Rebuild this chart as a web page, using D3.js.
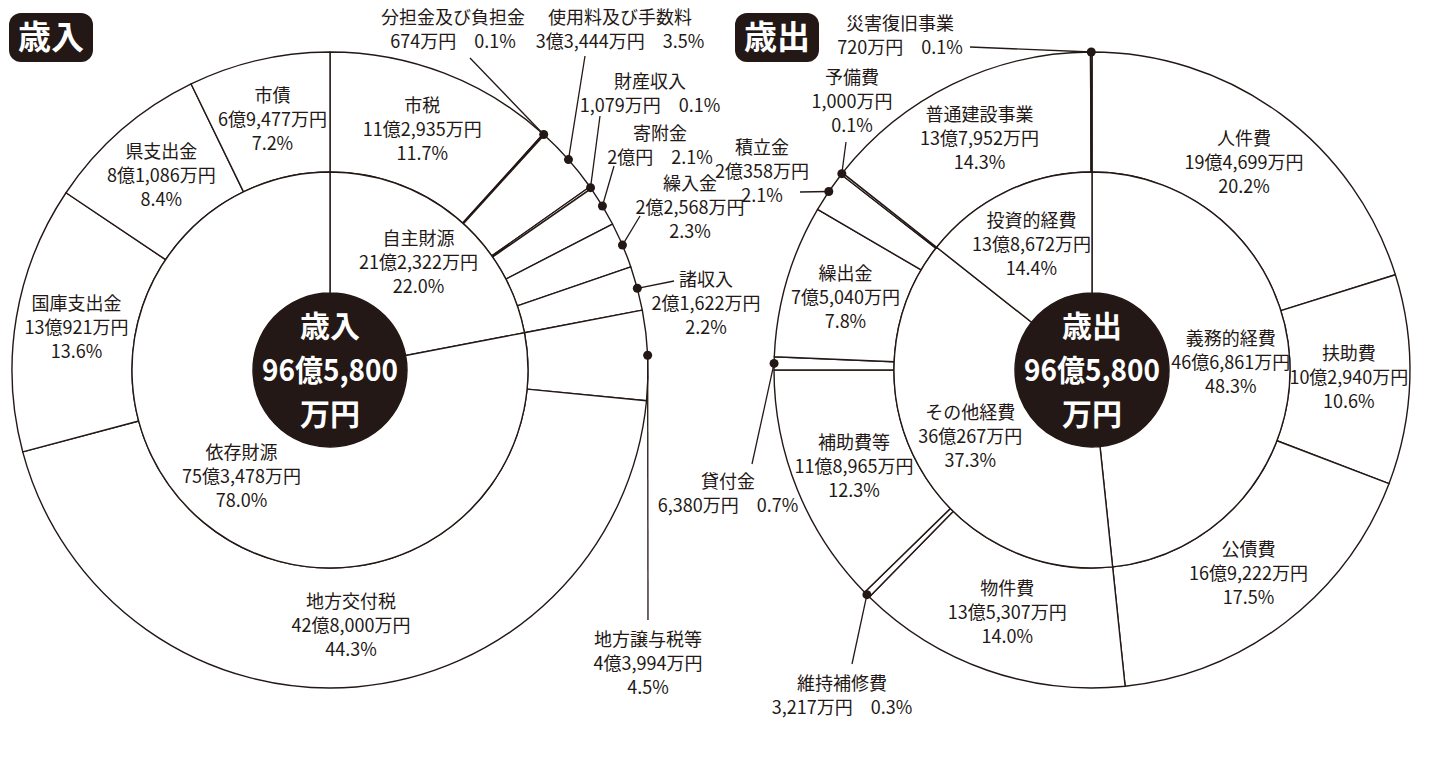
<!DOCTYPE html>
<html>
<head>
<meta charset="utf-8">
<script src="https://cdn.jsdelivr.net/npm/d3@7"></script>
<style>
  body { margin: 0; background: #fff; }
  text { font-family: "Noto Sans CJK JP", "Noto Sans", sans-serif; fill: #231815; }
</style>
</head>
<body>
<svg width="1436" height="769"></svg>
<script>
// 歳入 (単位: 万円)
var revTotal = 965800;
var revGroups = ["自主財源", "依存財源"];
var revGroupValues = [212322, 753478];
var revGroupPercents = ["22.0%", "78.0%"];
var revItems = ["市税", "分担金及び負担金", "使用料及び手数料", "財産収入", "寄附金", "繰入金", "諸収入",
                "地方譲与税等", "地方交付税", "国庫支出金", "県支出金", "市債"];
var revValues = [112935, 674, 33444, 1079, 20000, 22568, 21622, 43994, 428000, 130921, 81086, 69477];
var revPercents = ["11.7%", "0.1%", "3.5%", "0.1%", "2.1%", "2.3%", "2.2%", "4.5%", "44.3%", "13.6%", "8.4%", "7.2%"];

// 歳出 (単位: 万円)
var expTotal = 965800;
var expGroups = ["義務的経費", "その他経費", "投資的経費"];
var expGroupValues = [466861, 360267, 138672];
var expGroupPercents = ["48.3%", "37.3%", "14.4%"];
var expItems = ["人件費", "扶助費", "公債費", "物件費", "維持補修費", "補助費等", "貸付金", "繰出金", "積立金",
                "予備費", "普通建設事業", "災害復旧事業"];
var expValues = [194699, 102940, 169222, 135307, 3217, 118965, 6380, 75040, 20358, 1000, 137952, 720];
var expPercents = ["20.2%", "10.6%", "17.5%", "14.0%", "0.3%", "12.3%", "0.7%", "7.8%", "2.1%", "0.1%", "14.3%", "0.1%"];

// callout labels for the thin slices: label position, leader end, line count
var revCallouts = {
  "分担金及び負担金": { x: 453, y: 18, lines: 2, end: [470, 58] },
  "使用料及び手数料": { x: 620, y: 18, lines: 2, end: [585, 56] },
  "財産収入":         { x: 650, y: 82, lines: 2, end: [600, 116] },
  "寄附金":           { x: 660, y: 134, lines: 2, end: [614, 166] },
  "繰入金":           { x: 690, y: 184, lines: 3, end: [640, 216] },
  "諸収入":           { x: 706, y: 280, lines: 3, end: [674, 281] },
  "地方譲与税等":     { x: 648, y: 640, lines: 3, end: [648, 620] }
};
var expCallouts = {
  "災害復旧事業": { x: 900, y: 24, lines: 2, end: [970, 47] },
  "予備費":       { x: 852, y: 78, lines: 3, end: [846, 142] },
  "積立金":       { x: 762, y: 148, lines: 3, end: [800, 192] },
  "貸付金":       { x: 728, y: 482, lines: 2, end: [752, 464] },
  "維持補修費":   { x: 842, y: 684, lines: 2, end: [852, 664] }
};

var svg = d3.select("svg");
var lineStep = 24;

function fmtAmount(v) {
  var oku = Math.floor(v / 10000), man = v % 10000;
  var s = oku > 0 ? oku + "億" : "";
  return man > 0 ? s + d3.format(",")(man) + "万円" : s + "円";
}

// one text element per label, one tspan per line
function addLines(g, x, y, lines) {
  var t = g.append("text")
    .attr("text-anchor", "middle")
    .style("font-size", "18px");
  lines.forEach(function (s, i) {
    t.append("tspan")
      .attr("x", x).attr("y", y + i * lineStep)
      .attr("dy", "0.35em")
      .text(s);
  });
}

function drawDonut(o) {
  var rOut = 318, rMid = 198, rCore = 77;
  var root = svg.append("g");
  var g = root.append("g").attr("transform", "translate(" + o.cx + "," + o.cy + ")");

  var pie = d3.pie().sort(null).value(function (d) { return d.value; });
  var items = o.items.map(function (n, i) { return { name: n, value: o.values[i], pct: o.percents[i] }; });
  var groups = o.groups.map(function (n, i) { return { name: n, value: o.groupValues[i], pct: o.groupPercents[i] }; });
  var itemArcs = pie(items);
  var groupArcs = pie(groups);

  var outerArc = d3.arc().innerRadius(rMid).outerRadius(rOut);
  var innerArc = d3.arc().innerRadius(rCore).outerRadius(rMid);
  var outerLabel = d3.arc().innerRadius(257).outerRadius(257);
  var innerLabel = d3.arc().innerRadius(139).outerRadius(139);
  var edge = d3.arc().innerRadius(rOut).outerRadius(rOut);

  g.selectAll("path.item").data(itemArcs).enter().append("path")
    .attr("class", "item")
    .attr("d", outerArc)
    .attr("fill", "#fff")
    .attr("stroke", "#231815")
    .attr("stroke-width", 1.4)
    .attr("stroke-linejoin", "round");

  g.selectAll("path.group").data(groupArcs).enter().append("path")
    .attr("class", "group")
    .attr("d", innerArc)
    .attr("fill", "#fff")
    .attr("stroke", "#231815")
    .attr("stroke-width", 1.4);

  // labels inside the rings
  itemArcs.forEach(function (d) {
    if (o.callouts[d.data.name]) return;
    var c = outerLabel.centroid(d);
    addLines(g, c[0], c[1] - lineStep, [d.data.name, fmtAmount(d.data.value), d.data.pct]);
  });
  groupArcs.forEach(function (d) {
    var c = innerLabel.centroid(d);
    addLines(g, c[0], c[1] - lineStep, [d.data.name, fmtAmount(d.data.value), d.data.pct]);
  });

  // callouts
  itemArcs.forEach(function (d) {
    var co = o.callouts[d.data.name];
    if (!co) return;
    var p = edge.centroid(d);
    root.append("line")
      .attr("x1", o.cx + p[0]).attr("y1", o.cy + p[1])
      .attr("x2", co.end[0]).attr("y2", co.end[1])
      .attr("stroke", "#231815").attr("stroke-width", 1.3);
    root.append("circle")
      .attr("cx", o.cx + p[0]).attr("cy", o.cy + p[1]).attr("r", 4.5)
      .attr("fill", "#231815");
    var amt = fmtAmount(d.data.value);
    var lines = co.lines === 2 ? [d.data.name, amt + "\u3000" + d.data.pct] : [d.data.name, amt, d.data.pct];
    addLines(root, co.x, co.y, lines);
  });

  // centre disc
  g.append("circle").attr("r", rCore).attr("fill", "#231815");
  var total = fmtAmount(o.total);
  var cut = total.indexOf("万");
  [[o.title, -44, null], [total.slice(0, cut), 0, 136], [total.slice(cut), 44, null]].forEach(function (t) {
    var ts = g.append("text")
      .attr("x", 0).attr("y", t[1]).attr("dy", "0.35em")
      .attr("text-anchor", "middle")
      .style("font-size", "30px").style("font-weight", 700)
      .style("fill", "#fff")
      .text(t[0]);
    if (t[2]) ts.attr("textLength", t[2]).attr("lengthAdjust", "spacingAndGlyphs");
  });

  // heading box
  root.append("rect")
    .attr("x", o.boxX).attr("y", 13).attr("width", 84).attr("height", 49).attr("rx", 12)
    .attr("fill", "#231815");
  root.append("text")
    .attr("x", o.boxX + 42).attr("y", 37).attr("dy", "0.35em")
    .attr("text-anchor", "middle")
    .style("font-size", "33px").style("font-weight", 700).style("fill", "#fff")
    .text(o.title);
}

drawDonut({
  cx: 330, cy: 370, title: "歳入", boxX: 9, total: revTotal,
  items: revItems, values: revValues, percents: revPercents,
  groups: revGroups, groupValues: revGroupValues, groupPercents: revGroupPercents,
  callouts: revCallouts
});
drawDonut({
  cx: 1092, cy: 370, title: "歳出", boxX: 735, total: expTotal,
  items: expItems, values: expValues, percents: expPercents,
  groups: expGroups, groupValues: expGroupValues, groupPercents: expGroupPercents,
  callouts: expCallouts
});
</script>
</body>
</html>
